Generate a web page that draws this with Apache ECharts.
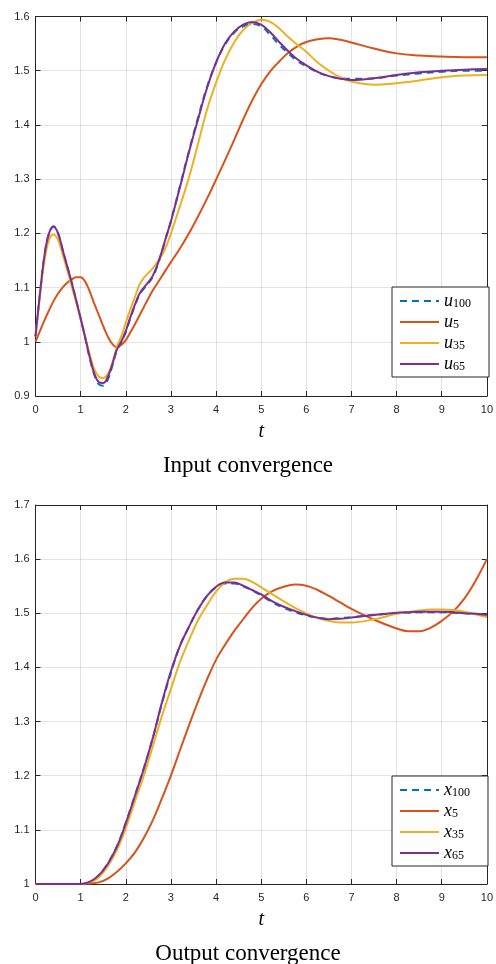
<!DOCTYPE html>
<html><head><meta charset="utf-8">
<script src="https://cdn.jsdelivr.net/npm/echarts@6/dist/echarts.min.js"></script>
<style>html,body{margin:0;padding:0;background:#fff}#c{width:496px;height:964px}</style>
</head><body><div id="c"></div>
<script>
// ---- Input convergence (top) ----
const tU = [0,0.1,0.2,0.3,0.4,0.5,0.6,0.7,0.8,0.9,1.0,1.1,1.2,1.3,1.4,1.5,1.6,1.7,1.8,1.9,2.0,2.1,2.2,2.3,2.4,2.5,2.6,2.7,2.8,2.9,3.0,3.2,3.4,3.6,3.8,4.0,4.2,4.4,4.6,4.8,5.0,5.2,5.4,5.6,5.8,6.0,6.25,6.5,6.75,7.0,7.5,8.0,8.5,9.0,9.5,10];
const u100 = [1.01,1.09,1.16,1.20,1.213,1.2,1.17,1.14,1.11,1.077,1.043,1.008,0.97,0.94,0.922,0.919,0.93,0.955,0.983,0.999,1.018,1.043,1.066,1.086,1.098,1.108,1.12,1.14,1.166,1.195,1.223,1.287,1.352,1.413,1.47,1.515,1.548,1.57,1.582,1.586,1.582,1.566,1.548,1.532,1.518,1.508,1.497,1.49,1.486,1.485,1.486,1.491,1.495,1.498,1.5,1.5];
const u5 = [1.0,1.02,1.04,1.058,1.075,1.089,1.1,1.109,1.115,1.119,1.119,1.111,1.093,1.071,1.05,1.029,1.01,0.996,0.99,0.994,1.003,1.017,1.032,1.048,1.064,1.08,1.095,1.108,1.121,1.134,1.147,1.172,1.2,1.231,1.264,1.299,1.335,1.372,1.41,1.445,1.475,1.499,1.517,1.533,1.545,1.553,1.558,1.56,1.557,1.552,1.541,1.532,1.528,1.526,1.525,1.525];
const u35 = [1.01,1.085,1.15,1.188,1.198,1.188,1.162,1.133,1.103,1.073,1.043,1.01,0.977,0.95,0.936,0.933,0.94,0.96,0.99,1.01,1.035,1.06,1.082,1.105,1.118,1.127,1.136,1.147,1.16,1.177,1.2,1.25,1.303,1.365,1.428,1.478,1.52,1.552,1.575,1.588,1.594,1.59,1.578,1.562,1.548,1.535,1.515,1.5,1.488,1.48,1.474,1.477,1.482,1.488,1.491,1.492];
const u65 = [1.01,1.09,1.16,1.20,1.212,1.2,1.17,1.14,1.11,1.077,1.043,1.008,0.972,0.942,0.926,0.924,0.935,0.958,0.985,1.0,1.02,1.045,1.068,1.088,1.1,1.11,1.122,1.142,1.167,1.195,1.222,1.285,1.35,1.41,1.468,1.515,1.55,1.572,1.585,1.59,1.585,1.571,1.553,1.536,1.521,1.51,1.498,1.49,1.485,1.483,1.486,1.492,1.497,1.5,1.502,1.503];

// ---- Output convergence (bottom) ----
const tX = [0,0.5,1.0,1.2,1.4,1.6,1.8,2.0,2.2,2.4,2.6,2.8,3.0,3.2,3.4,3.6,3.8,4.0,4.2,4.4,4.6,4.8,5.0,5.25,5.5,5.75,6.0,6.25,6.5,6.75,7.0,7.5,8.0,8.25,8.5,8.75,9.0,9.25,9.5,9.75,10];
const x100 = [1,1,1.0,1.004,1.016,1.038,1.069,1.113,1.163,1.214,1.27,1.333,1.39,1.44,1.475,1.507,1.532,1.548,1.555,1.555,1.55,1.542,1.533,1.52,1.51,1.502,1.496,1.492,1.49,1.491,1.493,1.497,1.5,1.501,1.502,1.502,1.502,1.501,1.5,1.499,1.498];
const x5 = [1,1,1.0,1.001,1.003,1.01,1.022,1.038,1.058,1.085,1.118,1.158,1.2,1.247,1.293,1.337,1.378,1.414,1.442,1.467,1.489,1.51,1.527,1.541,1.549,1.553,1.551,1.543,1.532,1.52,1.508,1.488,1.472,1.467,1.467,1.473,1.486,1.503,1.527,1.56,1.6];
const x35 = [1,1,1.0,1.003,1.012,1.033,1.062,1.103,1.152,1.2,1.255,1.31,1.36,1.41,1.45,1.487,1.515,1.54,1.557,1.564,1.564,1.558,1.548,1.535,1.522,1.51,1.5,1.491,1.486,1.483,1.483,1.489,1.499,1.502,1.505,1.507,1.507,1.506,1.503,1.498,1.493];
const x65 = [1,1,1.0,1.004,1.016,1.037,1.068,1.112,1.162,1.213,1.27,1.335,1.393,1.44,1.475,1.507,1.532,1.549,1.557,1.557,1.551,1.543,1.535,1.522,1.512,1.504,1.497,1.492,1.489,1.49,1.492,1.497,1.501,1.502,1.503,1.503,1.503,1.502,1.5,1.499,1.497];

const xTicks = {min:0, max:10, interval:1};
const yTopRange = {min:0.9, max:1.6, interval:0.1};
const yBotRange = {min:1.0, max:1.7, interval:0.1};

const AX = '#262626';
const GRIDC = 'rgba(38,38,38,0.13)';
const COLORS = {k100:'#0072BD', k5:'#D95319', k35:'#EDB120', k65:'#7E2F8E'};
const labelFont = {color:AX, fontSize:11, fontFamily:'Liberation Sans, Arial, sans-serif'};

function pairs(t, v){ return t.map((x,i)=>[x, v[i]]); }
function fmt(v){ return String(Math.round(v*10)/10); }

function xMain(g){
  return {gridIndex:g, type:'value', min:xTicks.min, max:xTicks.max, interval:xTicks.interval, position:'bottom',
    axisLine:{show:true, onZero:false, lineStyle:{color:AX, width:1}},
    axisTick:{show:true, inside:true, length:5, lineStyle:{color:AX}},
    axisLabel:Object.assign({margin:8, formatter:fmt}, labelFont),
    splitLine:{show:true, lineStyle:{color:GRIDC, width:1}},
    name:'t', nameLocation:'middle', nameGap:26,
    nameTextStyle:{fontFamily:'Liberation Serif, serif', fontStyle:'italic', fontSize:20, color:'#000'}};
}
function xTop(g){
  return {gridIndex:g, type:'value', min:xTicks.min, max:xTicks.max, interval:xTicks.interval, position:'top',
    axisLine:{show:true, onZero:false, lineStyle:{color:AX, width:1}},
    axisTick:{show:true, inside:true, length:5, lineStyle:{color:AX}},
    axisLabel:{show:false}, splitLine:{show:false}};
}
function yMain(g, r){
  return {gridIndex:g, type:'value', min:r.min, max:r.max, interval:r.interval, position:'left',
    axisLine:{show:true, onZero:false, lineStyle:{color:AX, width:1}},
    axisTick:{show:true, inside:true, length:5, lineStyle:{color:AX}},
    axisLabel:Object.assign({margin:6, formatter:fmt}, labelFont),
    splitLine:{show:true, lineStyle:{color:GRIDC, width:1}}};
}
function yRight(g, r){
  return {gridIndex:g, type:'value', min:r.min, max:r.max, interval:r.interval, position:'right',
    axisLine:{show:true, onZero:false, lineStyle:{color:AX, width:1}},
    axisTick:{show:true, inside:true, length:5, lineStyle:{color:AX}},
    axisLabel:{show:false}, splitLine:{show:false}};
}
function line(name, t, v, color, xi, yi, dashed, z){
  return {name:name, type:'line', xAxisIndex:xi, yAxisIndex:yi, data:pairs(t, v),
    showSymbol:false, symbol:'none', smooth:0.4, z:z,
    lineStyle:{color:color, width:2, type: dashed ? [7,5] : 'solid'},
    itemStyle:{color:color}, animation:false};
}
const legendRich = {
  i:{fontFamily:'Liberation Serif, serif', fontStyle:'italic', fontSize:18, color:'#000', lineHeight:18, verticalAlign:'top'},
  s:{fontFamily:'Liberation Serif, serif', fontSize:12, color:'#000', lineHeight:12, verticalAlign:'bottom'}
};
function legend(top, names, letter){
  return {orient:'vertical', left:392, top:top, data:names,
    backgroundColor:'#fff', borderColor:AX, borderWidth:1, padding:[5,18,4,7],
    itemWidth:39, itemHeight:13, itemGap:3,
    itemStyle:{opacity:0, color:'transparent', borderWidth:0},
    formatter:function(n){ return '{i|'+letter+'}{s|'+n.slice(1)+'}'; },
    textStyle:{rich:legendRich}};
}

const chart = echarts.init(document.getElementById('c'), null, {renderer:'canvas'});
chart.setOption({
  animation:false,
  backgroundColor:'#fff',
  title:[
    {text:'Input convergence', left:'center', top:454, padding:0,
     textStyle:{fontFamily:'Liberation Serif, serif', fontSize:23, fontWeight:'normal', color:'#000'}},
    {text:'Output convergence', left:'center', top:942, padding:0,
     textStyle:{fontFamily:'Liberation Serif, serif', fontSize:23, fontWeight:'normal', color:'#000'}}
  ],
  grid:[
    {left:35.5, top:16.5, width:454.5, height:379.5, containLabel:false},
    {left:35.5, top:505, width:454.5, height:379, containLabel:false}
  ],
  xAxis:[xMain(0), xTop(0), xMain(1), xTop(1)],
  yAxis:[yMain(0, yTopRange), yRight(0, yTopRange), yMain(1, yBotRange), yRight(1, yBotRange)],
  legend:[
    legend(287, ['u100','u5','u35','u65'], 'u'),
    legend(776, ['x100','x5','x35','x65'], 'x')
  ],
  series:[
    line('u100', tU, u100, COLORS.k100, 0, 0, true, 2),
    line('u5', tU, u5, COLORS.k5, 0, 0, false, 3),
    line('u35', tU, u35, COLORS.k35, 0, 0, false, 4),
    line('u65', tU, u65, COLORS.k65, 0, 0, false, 5),
    line('x100', tX, x100, COLORS.k100, 2, 2, true, 2),
    line('x5', tX, x5, COLORS.k5, 2, 2, false, 3),
    line('x35', tX, x35, COLORS.k35, 2, 2, false, 4),
    line('x65', tX, x65, COLORS.k65, 2, 2, false, 5)
  ]
});
</script>
</body></html>
